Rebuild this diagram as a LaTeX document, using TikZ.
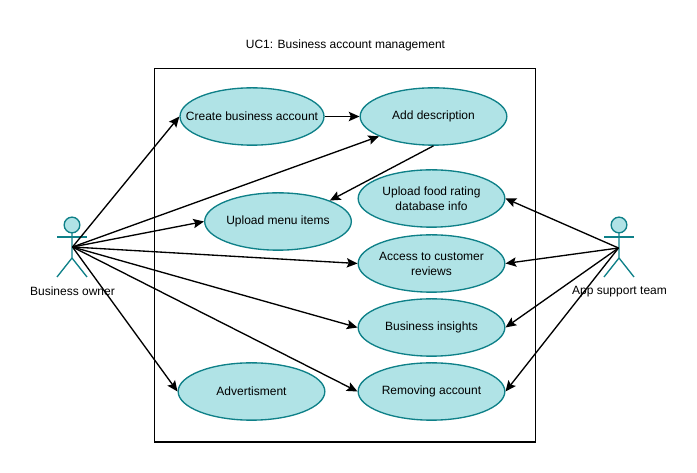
\documentclass[tikz,border=0pt]{standalone}
\usepackage{fontspec}
\setmainfont{Liberation Sans}
\usetikzlibrary{positioning}
\usetikzlibrary{shapes}
\usetikzlibrary{arrows.meta}
\definecolor{usefill}{HTML}{B0E3E6}
\definecolor{useline}{HTML}{0E8088}
\tikzset{
  usecase/.style={draw=useline, fill=usefill, ellipse, line width=1pt, inner xsep=-14pt, inner ysep=0pt, align=center, minimum height=43pt, font=\fontsize{9}{11.2}\selectfont},
  label/.style={font=\fontsize{9}{11}\selectfont},
  actorline/.style={draw=useline, line width=1pt},
  link/.style={-{Stealth[length=8pt,width=7pt,inset=1.5pt]}, line width=1pt, black}
}
\begin{document}
\begin{tikzpicture}[x=0.75pt, y=-0.75pt]
\useasboundingbox (0,0) rectangle (697,473);
\draw[black, line width=1.1pt] (154.5,68.5) rectangle (535.5,442);
\node[label] (title) at (345.5,45.5) {UC1: Business account management};
% use cases
\node[usecase, minimum width=108pt] (create) at (252,116.5) {Create business account};
\node[usecase, minimum width=110pt] (desc) at (433.5,116.5) {Add description};
\node[usecase, minimum width=110pt] (menu) at (278,221.5) {Upload menu items};
\node[usecase, minimum width=110pt] (food) at (431.5,198.5) {Upload food rating\\database info};
\node[usecase, minimum width=110pt] (reviews) at (431.5,263.5) {Access to customer\\reviews};
\node[usecase, minimum width=110pt] (insights) at (431.5,327.5) {Business insights};
\node[usecase, minimum width=110pt] (removing) at (431.5,391.5) {Removing account};
\node[usecase, minimum width=110pt] (advert) at (251.5,391.5) {Advertisment};
% business owner
\draw[actorline, fill=usefill] (72,225) circle (5.9pt);
\draw[actorline] (72,232.5) -- (72,258) -- (57,277);
\draw[actorline] (72,258) -- (87,277);
\draw[actorline] (57,237) -- (87,237);
\coordinate (owner) at (72.5,247);
\node[label] (ownerlabel) at (72.5,291.5) {Business owner};
% app support team
\draw[actorline, fill=usefill] (619,225) circle (5.9pt);
\draw[actorline] (619,232.5) -- (619,258) -- (604,277);
\draw[actorline] (619,258) -- (634,277);
\draw[actorline] (604,237) -- (634,237);
\coordinate (support) at (618.5,248);
\node[label] (supportlabel) at (619.5,291.5) {App support team};
% links
\draw[link] (create.east) -- (desc.west);
\draw[link] (desc.south) -- (menu.22);
\draw[link] (owner) -- (create.west);
\draw[link] (owner) -- (desc.200);
\draw[link] (owner) -- (menu.west);
\draw[link] (owner) -- (reviews.west);
\draw[link] (owner) -- (insights.west);
\draw[link] (owner) -- (removing.west);
\draw[link] (owner) -- (advert.west);
\draw[link] (support) -- (food.east);
\draw[link] (support) -- (reviews.east);
\draw[link] (support) -- (insights.east);
\draw[link] (support) -- (removing.east);
\end{tikzpicture}
\end{document}
